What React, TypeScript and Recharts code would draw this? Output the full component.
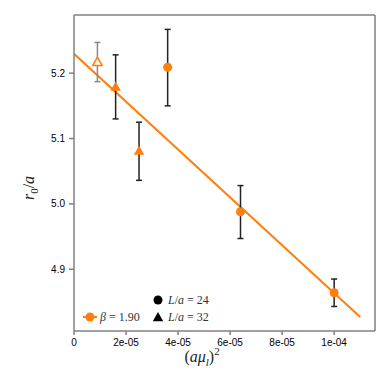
import React from "react";
import { ComposedChart, Scatter, Line, XAxis, YAxis, ErrorBar } from "recharts";

// (a mu_l)^2 values
const xOpen = [9e-6];
const yOpen = [5.217];
const errOpen: [number, number][] = [[0.03, 0.03]];

const x32 = [1.6e-5, 2.5e-5];
const y32 = [5.179, 5.081];
const err32: [number, number][] = [[0.049, 0.049], [0.045, 0.044]];

const x24 = [3.6e-5, 6.4e-5, 1.0e-4];
const y24 = [5.209, 4.988, 4.864];
const err24: [number, number][] = [[0.059, 0.058], [0.041, 0.04], [0.021, 0.021]];

const fitX = [0, 1.1e-4];
const fitY = [5.2296, 4.827];

const xTicks = [0, 2e-5, 4e-5, 6e-5, 8e-5, 1e-4];
const xTickLabels = ["0", "2e-05", "4e-05", "6e-05", "8e-05", "1e-04"];
const yTicks = [4.9, 5.0, 5.1, 5.2];
const yTickLabels = ["4.9", "5.0", "5.1", "5.2"];

const xDomain: [number, number] = [0, 1.157e-4];
const yDomain: [number, number] = [4.8055, 5.289];

const ORANGE = "#ff7f0e";
const GRAY = "#808080";

const mk = (xs: number[], ys: number[], es: [number, number][]) =>
  xs.map((x, i) => ({ x, y: ys[i], err: es[i] }));

const dOpen = mk(xOpen, yOpen, errOpen);
const d32 = mk(x32, y32, err32);
const d24 = mk(x24, y24, err24);
const dFit = fitX.map((x, i) => ({ x, y: fitY[i] }));

const Circle = (p: any) => <circle cx={p.cx} cy={p.cy} r={4.5} fill={ORANGE} />;
const tri = (cx: number, cy: number, s: number) =>
  `M${cx},${cy - s} L${cx + s * 0.95},${cy + s * 0.7} L${cx - s * 0.95},${cy + s * 0.7} Z`;
const TriFilled = (p: any) => <path d={tri(p.cx, p.cy, 5.5)} fill={ORANGE} />;
const TriOpen = (p: any) => (
  <path d={tri(p.cx, p.cy, 5)} fill="#fff" stroke={ORANGE} strokeWidth={1.5} />
);

const tickFont = { fontFamily: "'Liberation Sans', Arial, sans-serif", fontSize: 10, fill: "#000" };
const serif = "'Liberation Serif', 'DejaVu Serif', serif";

const LegendOverlay = () => (
  <svg width={383} height={375} style={{ position: "absolute", left: 0, top: 0, pointerEvents: "none" }}>
    <line x1={75} y1={309} x2={89} y2={309} stroke={ORANGE} strokeWidth={2} />
    <circle cx={82} cy={309} r={4.5} fill={ORANGE} />
    <text x={92} y={313} fontFamily={serif} fontSize={12} fill="#333">
      <tspan fontStyle="italic">β</tspan> = 1.90
    </text>
    <circle cx={150} cy={292} r={4.5} fill="#000" />
    <text x={160} y={296} fontFamily={serif} fontSize={12} fill="#333">
      <tspan fontStyle="italic">L</tspan>/<tspan fontStyle="italic">a</tspan> = 24
    </text>
    <path d={tri(150, 309.5, 5.5)} fill="#000" />
    <text x={160} y={313} fontFamily={serif} fontSize={12} fill="#333">
      <tspan fontStyle="italic">L</tspan>/<tspan fontStyle="italic">a</tspan> = 32
    </text>
    <text x={194} y={354} textAnchor="middle" fontFamily={serif} fontSize={16} fill="#222">
      (<tspan fontStyle="italic">aμ</tspan>
      <tspan fontStyle="italic" fontSize={11} dy={4}>l</tspan>
      <tspan dy={-4}>)</tspan>
      <tspan fontSize={11} dy={-7}>2</tspan>
    </text>
    <text
      x={26}
      y={180}
      textAnchor="middle"
      fontFamily={serif}
      fontSize={16}
      fill="#222"
      transform="rotate(-90 26 180)"
    >
      <tspan fontStyle="italic">r</tspan>
      <tspan fontSize={11} dy={4}>0</tspan>
      <tspan dy={-4}>/</tspan>
      <tspan fontStyle="italic">a</tspan>
    </text>
  </svg>
);

export default function App() {
  return (
    <div style={{ position: "relative", width: 383, height: 375 }}>
      <ComposedChart
        width={383}
        height={375}
        margin={{ top: 6, right: 15, left: 26, bottom: 22 }}
      >
        <XAxis
          xAxisId={0}
          dataKey="x"
          type="number"
          domain={xDomain}
          ticks={xTicks}
          tickFormatter={(v: number) => xTickLabels[xTicks.indexOf(v)] ?? String(v)}
          allowDataOverflow
          height={30}
          stroke={GRAY}
          strokeWidth={1.5}
          tickSize={4}
          tickMargin={3.5}
          tick={tickFont}
        />
        <XAxis
          xAxisId="top"
          orientation="top"
          type="number"
          domain={xDomain}
          height={1}
          tick={false}
          tickLine={false}
          stroke={GRAY}
          strokeWidth={1.5}
        />
        <YAxis
          yAxisId={0}
          type="number"
          domain={yDomain}
          ticks={yTicks}
          tickFormatter={(v: number) => yTickLabels[yTicks.indexOf(v)] ?? String(v)}
          allowDataOverflow
          width={40}
          stroke={GRAY}
          strokeWidth={1.5}
          tickSize={5}
          tickMargin={4}
          tick={tickFont}
        />
        <YAxis
          yAxisId="right"
          orientation="right"
          type="number"
          domain={yDomain}
          width={1}
          tick={false}
          tickLine={false}
          stroke={GRAY}
          strokeWidth={1.5}
        />
        <Line
          data={dFit}
          dataKey="y"
          stroke={ORANGE}
          strokeWidth={2}
          dot={false}
          isAnimationActive={false}
          legendType="none"
        />
        <Scatter data={dOpen} dataKey="y" shape={TriOpen} isAnimationActive={false}>
          <ErrorBar dataKey="err" direction="y" width={3} stroke="#888" strokeWidth={1.5} isAnimationActive={false} />
        </Scatter>
        <Scatter data={d32} dataKey="y" shape={TriFilled} isAnimationActive={false}>
          <ErrorBar dataKey="err" direction="y" width={3} stroke="#222" strokeWidth={1.5} isAnimationActive={false} />
        </Scatter>
        <Scatter data={d24} dataKey="y" shape={Circle} isAnimationActive={false}>
          <ErrorBar dataKey="err" direction="y" width={3} stroke="#222" strokeWidth={1.5} isAnimationActive={false} />
        </Scatter>
      </ComposedChart>
      <LegendOverlay />
    </div>
  );
}
